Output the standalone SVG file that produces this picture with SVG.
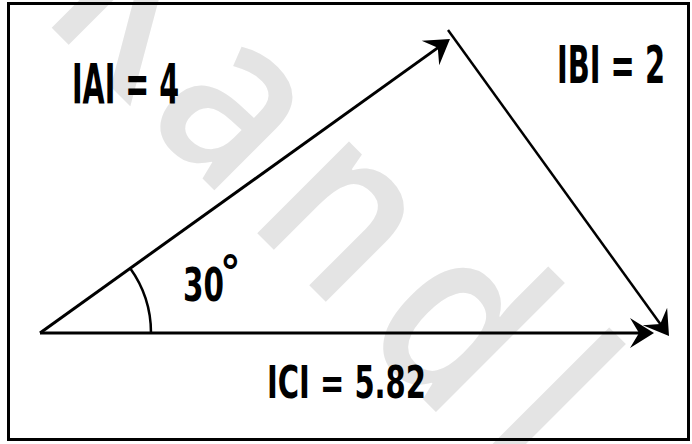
<svg xmlns="http://www.w3.org/2000/svg" width="692" height="444" viewBox="0 0 692 444">
<style>
.lbl{font-family:"DejaVu Sans Condensed","DejaVu Sans","Liberation Sans",sans-serif;font-weight:bold;fill:#000;}
.wm{font-family:"Open Sans","DejaVu Sans",sans-serif;font-size:240px;font-weight:600;fill:#e4e4e4;}
.vec{stroke:#000;fill:none;stroke-linecap:butt;}
</style>
<defs>
<marker id="ah" viewBox="0 -16 26 32" refX="11" refY="0" markerWidth="26" markerHeight="32" markerUnits="userSpaceOnUse" orient="auto">
<path d="M0,-15 L24,0 L0,15 L9,0 Z" fill="#000"/>
</marker>
</defs>
<rect x="0" y="0" width="692" height="444" fill="#fff"/>
<g id="watermark">
<text class="wm" transform="translate(427,403) rotate(45) scale(0.85,1)" x="-647 -474 -302 -115 69" y="0">Kandl</text>
</g>
<rect id="frame" x="8.5" y="3.5" width="680" height="436" fill="none" stroke="#000" stroke-width="3"/>
<g id="connectors">
<line id="vecA" class="vec" x1="40" y1="333" x2="439.4" y2="46.6" stroke-width="3" marker-end="url(#ah)"/>
<line id="vecB" class="vec" x1="448" y1="30" x2="661.4" y2="325.5" stroke-width="2.5" marker-end="url(#ah)"/>
<line id="vecC" class="vec" x1="40" y1="333" x2="641" y2="333" stroke-width="3" marker-end="url(#ah)"/>
<path id="angleArc" class="vec" d="M130,268 A111,111 0 0 1 151,333" stroke-width="2.5"/>
</g>
<g id="labelA"><text class="lbl" x="72" y="103" font-size="55" textLength="107" lengthAdjust="spacingAndGlyphs">IAI = 4</text></g>
<g id="labelB"><text class="lbl" x="557" y="83" font-size="52" textLength="108" lengthAdjust="spacingAndGlyphs">IBI = 2</text></g>
<g id="labelC"><text class="lbl" x="267" y="398" font-size="45" textLength="159" lengthAdjust="spacingAndGlyphs">ICI = 5.82</text></g>
<g id="labelAngle">
<text class="lbl" x="183" y="301" font-size="47" textLength="41" lengthAdjust="spacingAndGlyphs">30</text>
<text class="lbl" x="220" y="289" font-size="46">°</text>
</g>
</svg>
